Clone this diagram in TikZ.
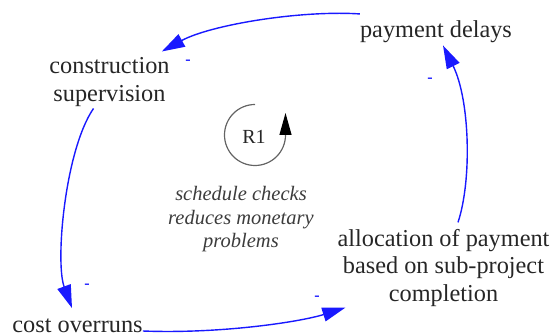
\documentclass[tikz,border=0pt]{standalone}
\usepackage{fontspec}
\setmainfont{Liberation Serif}
\usetikzlibrary{arrows.meta}
\definecolor{linkblue}{RGB}{25,25,255}
\definecolor{labelgray}{RGB}{38,38,38}
\definecolor{notegray}{RGB}{60,60,60}
\definecolor{loopgray}{RGB}{100,100,100}
\begin{document}
\begin{tikzpicture}[x=1pt,y=-1pt,
  var/.style={inner sep=0pt, align=center, text=labelgray,
    font=\fontsize{24.3}{27.3}\selectfont},
  link/.style={draw=linkblue, line width=1.4pt,
    -{Triangle[length=23pt,width=14pt]}},
  polarity/.style={text=linkblue, inner sep=0pt, anchor=base,
    font=\fontsize{16}{16}\bfseries},
  note/.style={inner sep=0pt, align=center, text=notegray,
    font=\fontsize{20.5}{23.5}\itshape},
  loopline/.style={draw=loopgray, line width=1.2pt,
    -{Triangle[length=22pt,width=12pt,color=black]}}]
\useasboundingbox (0,0) rectangle (553,336);

% variables of the causal loop
\node[var, anchor=base] (pd) at (436,38) {payment delays};
\node[var] (cs) at (109.5,82) {construction\\supervision};
\node[var, anchor=base] (co) at (77.5,332) {cost overruns};
\node[var] (ap) at (443.5,268) {allocation of payment\\based on sub-project\\completion};

% loop identifier and its description
\node[inner sep=0pt, text=labelgray, font=\fontsize{20}{20}\selectfont] (r1) at (254,137) {R1};
\node[note] (desc) at (241,219.5) {schedule checks\\reduces monetary\\problems};
\draw[loopline] ([shift={(1,-32.5)}]r1.center)
  arc[start angle=90, end angle=360, radius=30.5pt] -- ++(0,-22);

% causal links
\draw[link] ([shift={(0,-7)}]pd.north west)
  .. controls (300,10) and (210,25) .. ([shift={(-8,-6)}]cs.north east);
\draw[link] ([shift={(-16,2)}]cs.south)
  .. controls (65,150) and (55,262) .. ([shift={(-5.5,-10)}]co.north);
\draw[link] ([shift={(0,-1)}]co.base east)
  .. controls (220,334) and (300,322) .. ([shift={(8,1)}]ap.south west);
\draw[link] ([shift={(14.5,-7)}]ap.north)
  .. controls (472,180) and (470,100) .. ([shift={(7,2)}]pd.south);

% link polarities
\node[polarity] (p1) at (188,65) {-};
\node[polarity] (p2) at (430,83) {-};
\node[polarity] (p3) at (87,288) {-};
\node[polarity] (p4) at (317,300) {-};
\end{tikzpicture}
\end{document}
